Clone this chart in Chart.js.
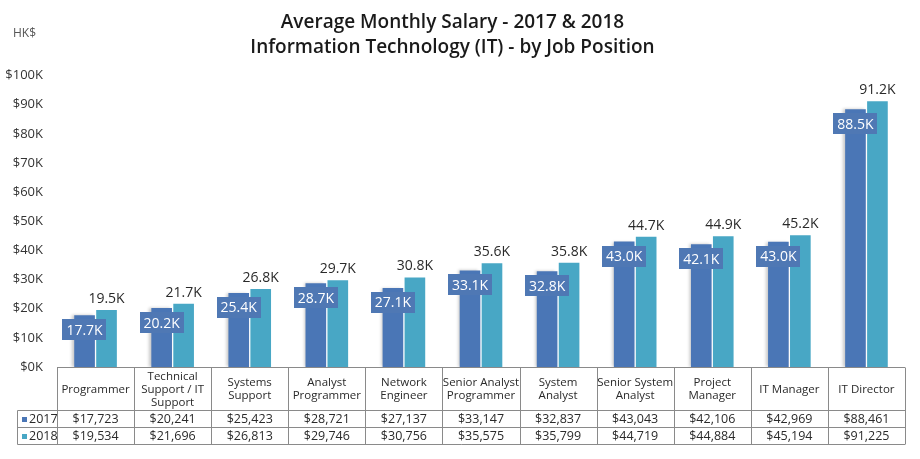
<!DOCTYPE html>
<html><head><meta charset="utf-8">
<script src="https://cdn.jsdelivr.net/npm/chart.js@4.4.1/dist/chart.umd.min.js"></script>
<style>html,body{margin:0;padding:0;background:#fff;} #wrap{width:920px;height:459px;position:relative;}</style>
</head><body><div id="wrap"><canvas id="c"></canvas></div>
<script>
const titleLines = ['Average Monthly Salary - 2017 & 2018', 'Information Technology (IT) - by Job Position'];
const unitLabel = 'HK$';
const categories = [
  ['Programmer'],
  ['Technical', 'Support / IT', 'Support'],
  ['Systems', 'Support'],
  ['Analyst', 'Programmer'],
  ['Network', 'Engineer'],
  ['Senior Analyst', 'Programmer'],
  ['System', 'Analyst'],
  ['Senior System', 'Analyst'],
  ['Project', 'Manager'],
  ['IT Manager'],
  ['IT Director']
];
const seriesNames = ['2017', '2018'];
const salary2017 = [17723, 20241, 25423, 28721, 27137, 33147, 32837, 43043, 42106, 42969, 88461];
const salary2018 = [19534, 21696, 26813, 29746, 30756, 35575, 35799, 44719, 44884, 45194, 91225];
const yMax = 100000;
const yStep = 10000;

const FONT = "'Open Sans', 'Noto Sans', sans-serif";
const C2017 = '#4a76b6';
const C2018 = '#48a7c5';
const BOX2017 = '#4f78b4';

const fmtK = v => (v / 1000).toFixed(1) + 'K';
const fmtMoney = v => '$' + v.toLocaleString('en-US');

const decoPlugin = {
  id: 'deco',
  beforeDatasetDraw(chart, args) {
    if (args.index === 0) {
      const ctx = chart.ctx;
      ctx.save();
      ctx.shadowColor = 'rgba(0,0,0,0.22)';
      ctx.shadowOffsetX = -2;
      ctx.shadowOffsetY = 0;
      ctx.shadowBlur = 3;
    }
  },
  afterDatasetDraw(chart, args) {
    if (args.index === 0) chart.ctx.restore();
  },
  afterDatasetsDraw(chart) {
    const ctx = chart.ctx;
    ctx.save();
    const m1 = chart.getDatasetMeta(1);
    ctx.font = '14px ' + FONT;
    ctx.textAlign = 'center';
    ctx.textBaseline = 'bottom';
    ctx.fillStyle = '#2a2a2a';
    m1.data.forEach((el, i) => {
      ctx.fillText(fmtK(salary2018[i]), el.x, el.y - 4);
    });
    const m0 = chart.getDatasetMeta(0);
    m0.data.forEach((el, i) => {
      const t = fmtK(salary2017[i]);
      const w = ctx.measureText(t).width + 8;
      const h = 21;
      const top = el.y + 4;
      ctx.fillStyle = BOX2017;
      ctx.fillRect(Math.round(el.x - w / 2), Math.round(top), Math.round(w), h);
      ctx.fillStyle = '#ffffff';
      ctx.textBaseline = 'middle';
      ctx.fillText(t, el.x, top + h / 2 + 1);
    });
    ctx.restore();
  },
  afterDraw(chart) {
    const ctx = chart.ctx;
    const area = chart.chartArea;
    const xs = chart.scales.x;
    const n = categories.length;
    const colW = (area.right - area.left) / n;
    const top = Math.round(area.bottom) + 0.5;
    const hdrBot = top + 43;
    const r1 = hdrBot + 17;
    const r2 = r1 + 17;
    const legL = 17.5;
    ctx.save();
    ctx.font = '12px ' + FONT;
    ctx.fillStyle = '#555';
    ctx.textAlign = 'left';
    ctx.textBaseline = 'middle';
    ctx.fillText(unitLabel, 13, 34);

    ctx.strokeStyle = '#8a8a8a';
    ctx.lineWidth = 1;
    ctx.beginPath();
    ctx.moveTo(area.left, top); ctx.lineTo(area.right, top);
    [hdrBot, r1, r2].forEach(y => { ctx.moveTo(legL, y); ctx.lineTo(area.right, y); });
    for (let i = 0; i <= n; i++) {
      const x = Math.round(area.left + i * colW) + 0.5;
      ctx.moveTo(x, top); ctx.lineTo(x, r2);
    }
    ctx.moveTo(legL, hdrBot); ctx.lineTo(legL, r2);
    ctx.stroke();

    ctx.fillStyle = '#2a2a2a';
    ctx.textAlign = 'center';
    ctx.textBaseline = 'middle';
    ctx.font = '11.5px ' + FONT;
    const hc = (top + hdrBot) / 2;
    categories.forEach((lines, i) => {
      const cx = xs.getPixelForValue(i);
      lines.forEach((ln, j) => {
        ctx.fillText(ln, cx, hc + (j - (lines.length - 1) / 2) * 13 + 0.5);
      });
    });
    ctx.font = '12.5px ' + FONT;
    const c1 = (hdrBot + r1) / 2, c2 = (r1 + r2) / 2;
    salary2017.forEach((v, i) => ctx.fillText(fmtMoney(v), xs.getPixelForValue(i), c1 + 0.5));
    salary2018.forEach((v, i) => ctx.fillText(fmtMoney(v), xs.getPixelForValue(i), c2 + 0.5));
    ctx.textAlign = 'left';
    [[seriesNames[0], C2017, c1], [seriesNames[1], C2018, c2]].forEach(([name, col, cy]) => {
      ctx.fillStyle = col;
      ctx.fillRect(22, Math.round(cy - 2), 5, 5);
      ctx.fillStyle = '#2a2a2a';
      ctx.fillText(name, 29, cy + 0.5);
    });
    ctx.restore();
  }
};

new Chart(document.getElementById('c'), {
  type: 'bar',
  data: {
    labels: categories,
    datasets: [
      { label: seriesNames[0], data: salary2017, backgroundColor: C2017 },
      { label: seriesNames[1], data: salary2018, backgroundColor: C2018 }
    ]
  },
  options: {
    responsive: true,
    maintainAspectRatio: false,
    animation: false,
    devicePixelRatio: 1,
    layout: { padding: { top: 0, left: 0, right: 15, bottom: 92 } },
    datasets: { bar: { categoryPercentage: 0.57, barPercentage: 0.94 } },
    plugins: {
      legend: { display: false },
      tooltip: { enabled: false },
      title: {
        display: true,
        text: titleLines,
        color: '#1a1a1a',
        font: { family: FONT, size: 19, weight: '600', lineHeight: 1.32 },
        padding: { top: 10, bottom: 15.5 }
      }
    },
    scales: {
      x: { display: false },
      y: {
        min: 0, max: yMax,
        grid: { display: false, drawTicks: false },
        border: { display: false },
        afterFit(s) { s.width = 57; },
        ticks: {
          stepSize: yStep,
          padding: 14,
          color: '#333',
          font: { family: FONT, size: 13 },
          callback: v => '$' + (v / 1000) + 'K'
        }
      }
    }
  },
  plugins: [decoPlugin]
});
</script>
</body></html>
